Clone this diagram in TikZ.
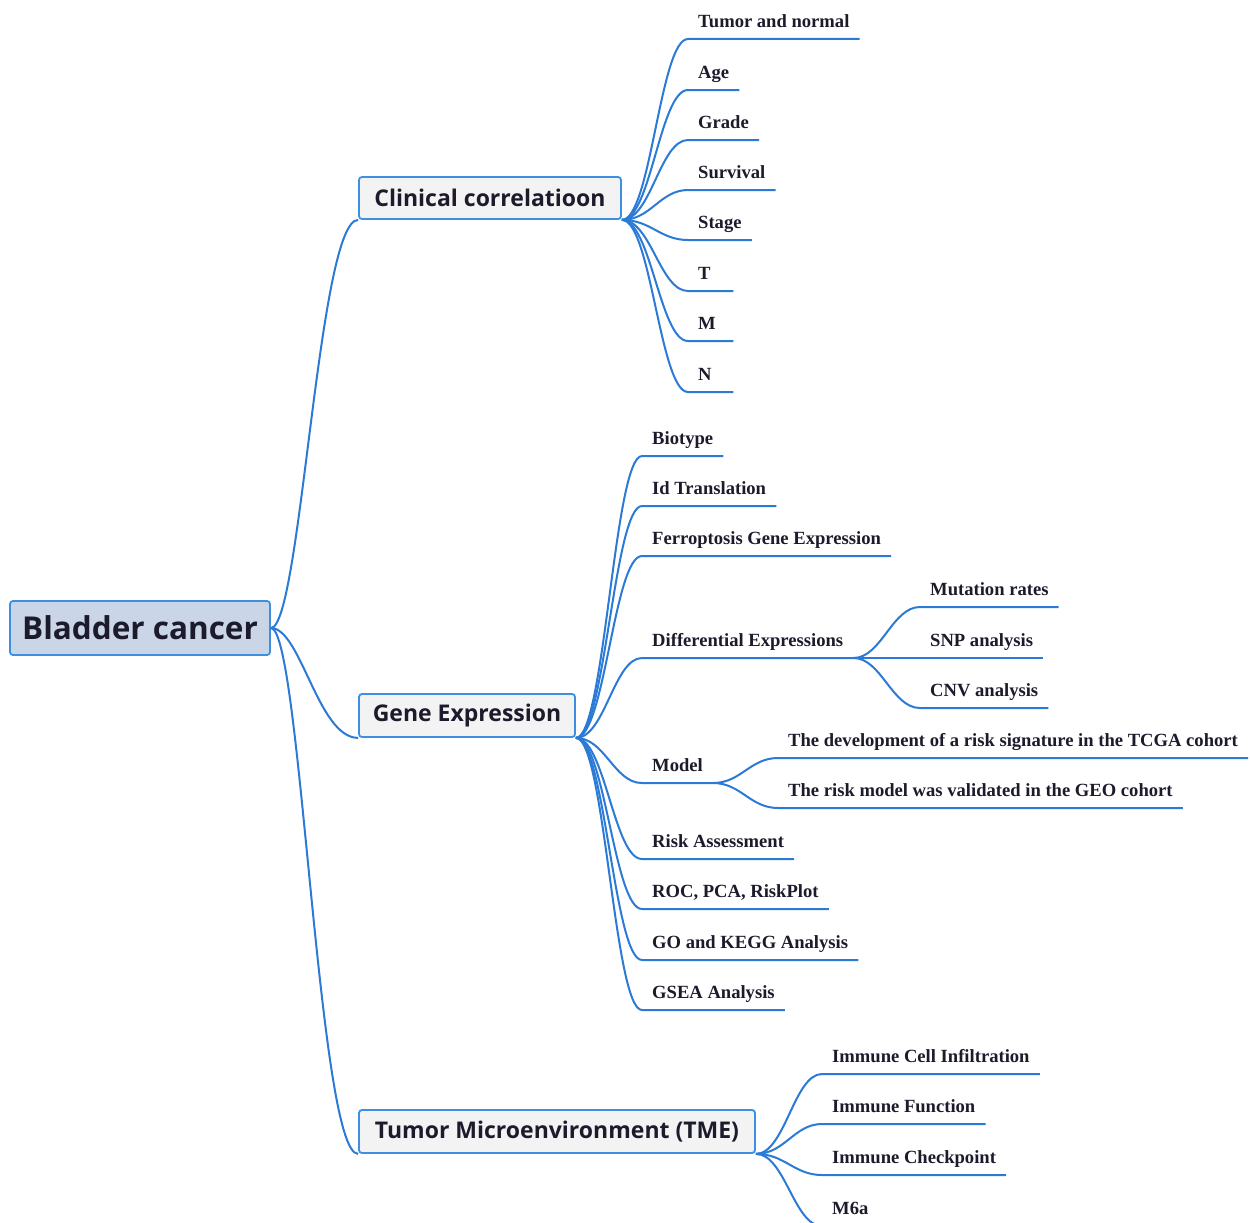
\documentclass[tikz,border=0pt]{standalone}
\usepackage{fontspec}
\newfontfamily\leaffont{Liberation Serif}[BoldFont={Liberation Serif Bold}]
\newfontfamily\topicfont{Open Sans}
\definecolor{lineBlue}{HTML}{2B7BD6}
\definecolor{boxEdge}{HTML}{3D8FE0}
\definecolor{boxFill}{HTML}{F3F3F4}
\definecolor{rootFill}{HTML}{CAD6E8}
\definecolor{inkDark}{HTML}{1B1B2B}

\begin{document}
\begin{tikzpicture}[
    x=1pt, y=-1pt,
    topic/.style={draw=boxEdge, line width=1.8pt, fill=boxFill, rounded corners=3pt,
        inner sep=0pt, text=inkDark,
        font=\topicfont\bfseries\fontsize{23}{27}\selectfont},
    rootbox/.style={topic, fill=rootFill,
        font=\topicfont\bfseries\fontsize{31.5}{36}\selectfont},
    leaf/.style={anchor=south west, inner xsep=10pt, inner ysep=0pt,
        text height=13pt, text depth=11.5pt, text=inkDark,
        font=\leaffont\bfseries\fontsize{18.6}{22}\selectfont},
    shortleaf/.style={leaf, text width=25pt, align=left},
    link/.style={lineBlue, line width=2pt},
]
\useasboundingbox (0,0) rectangle (1250,1223);

% main topics
\node[rootbox, minimum width=260, minimum height=54] (root) at (140,628) {Bladder cancer};
\node[topic, minimum width=262, minimum height=42] (clin) at (490,198) {Clinical correlatioon};
\node[topic, minimum width=216, minimum height=43] (gene) at (467,715.5) {Gene Expression};
\node[topic, minimum width=396, minimum height=43] (tme) at (557,1131.5) {Tumor Microenvironment (TME)};

% root to topics
\foreach \t in {clin, gene, tme}
    \draw[link] (root.east) .. controls +(30,0) and +(-40,0) .. (\t.south west);

% clinical leaves
\foreach \nm/\yy/\txt/\st in {tumor/39/Tumor and normal/leaf, age/90/Age/leaf,
        grade/140/Grade/leaf, surv/190/Survival/leaf, stage/240/Stage/leaf,
        tt/291/T/shortleaf, mm/341/M/shortleaf, nn/392/N/shortleaf} {
    \node[\st] (\nm) at (688,\yy) {\txt};
    \draw[link] (clin.south east) .. controls +(29,0) and +(-28,0) .. (\nm.south west)
        -- (\nm.south east);
}

% gene expression leaves
\foreach \nm/\yy/\txt in {bio/456/Biotype, idt/506/Id Translation,
        ferro/556/Ferroptosis Gene Expression, diff/658/Differential Expressions,
        model/783/Model, risk/859/Risk Assessment, roc/909/{ROC, PCA, RiskPlot},
        gokegg/960/GO and KEGG Analysis, gsea/1010/GSEA Analysis} {
    \node[leaf] (\nm) at (642,\yy) {\txt};
    \draw[link] (gene.south east) .. controls +(29,0) and +(-28,0) .. (\nm.south west)
        -- (\nm.south east);
}

% differential expressions
\foreach \nm/\yy/\txt in {mut/607/Mutation rates, snp/658/SNP analysis, cnv/708/CNV analysis} {
    \node[leaf] (\nm) at (920,\yy) {\txt};
    \draw[link] (diff.south east) .. controls +(28,0) and +(-28,0) .. (\nm.south west)
        -- (\nm.south east);
}

% model
\foreach \nm/\yy/\txt in {dev/758/The development of a risk signature in the TCGA cohort,
        valid/808/The risk model was validated in the GEO cohort} {
    \node[leaf] (\nm) at (778,\yy) {\txt};
    \draw[link] (model.south east) .. controls +(28,0) and +(-28,0) .. (\nm.south west)
        -- (\nm.south east);
}

% tumor microenvironment
\foreach \nm/\yy/\txt in {infil/1074/Immune Cell Infiltration, func/1124/Immune Function,
        check/1175/Immune Checkpoint, msix/1226/M6a} {
    \node[leaf] (\nm) at (822,\yy) {\txt};
    \draw[link] (tme.south east) .. controls +(29,0) and +(-28,0) .. (\nm.south west)
        -- (\nm.south east);
}

\end{tikzpicture}
\end{document}
